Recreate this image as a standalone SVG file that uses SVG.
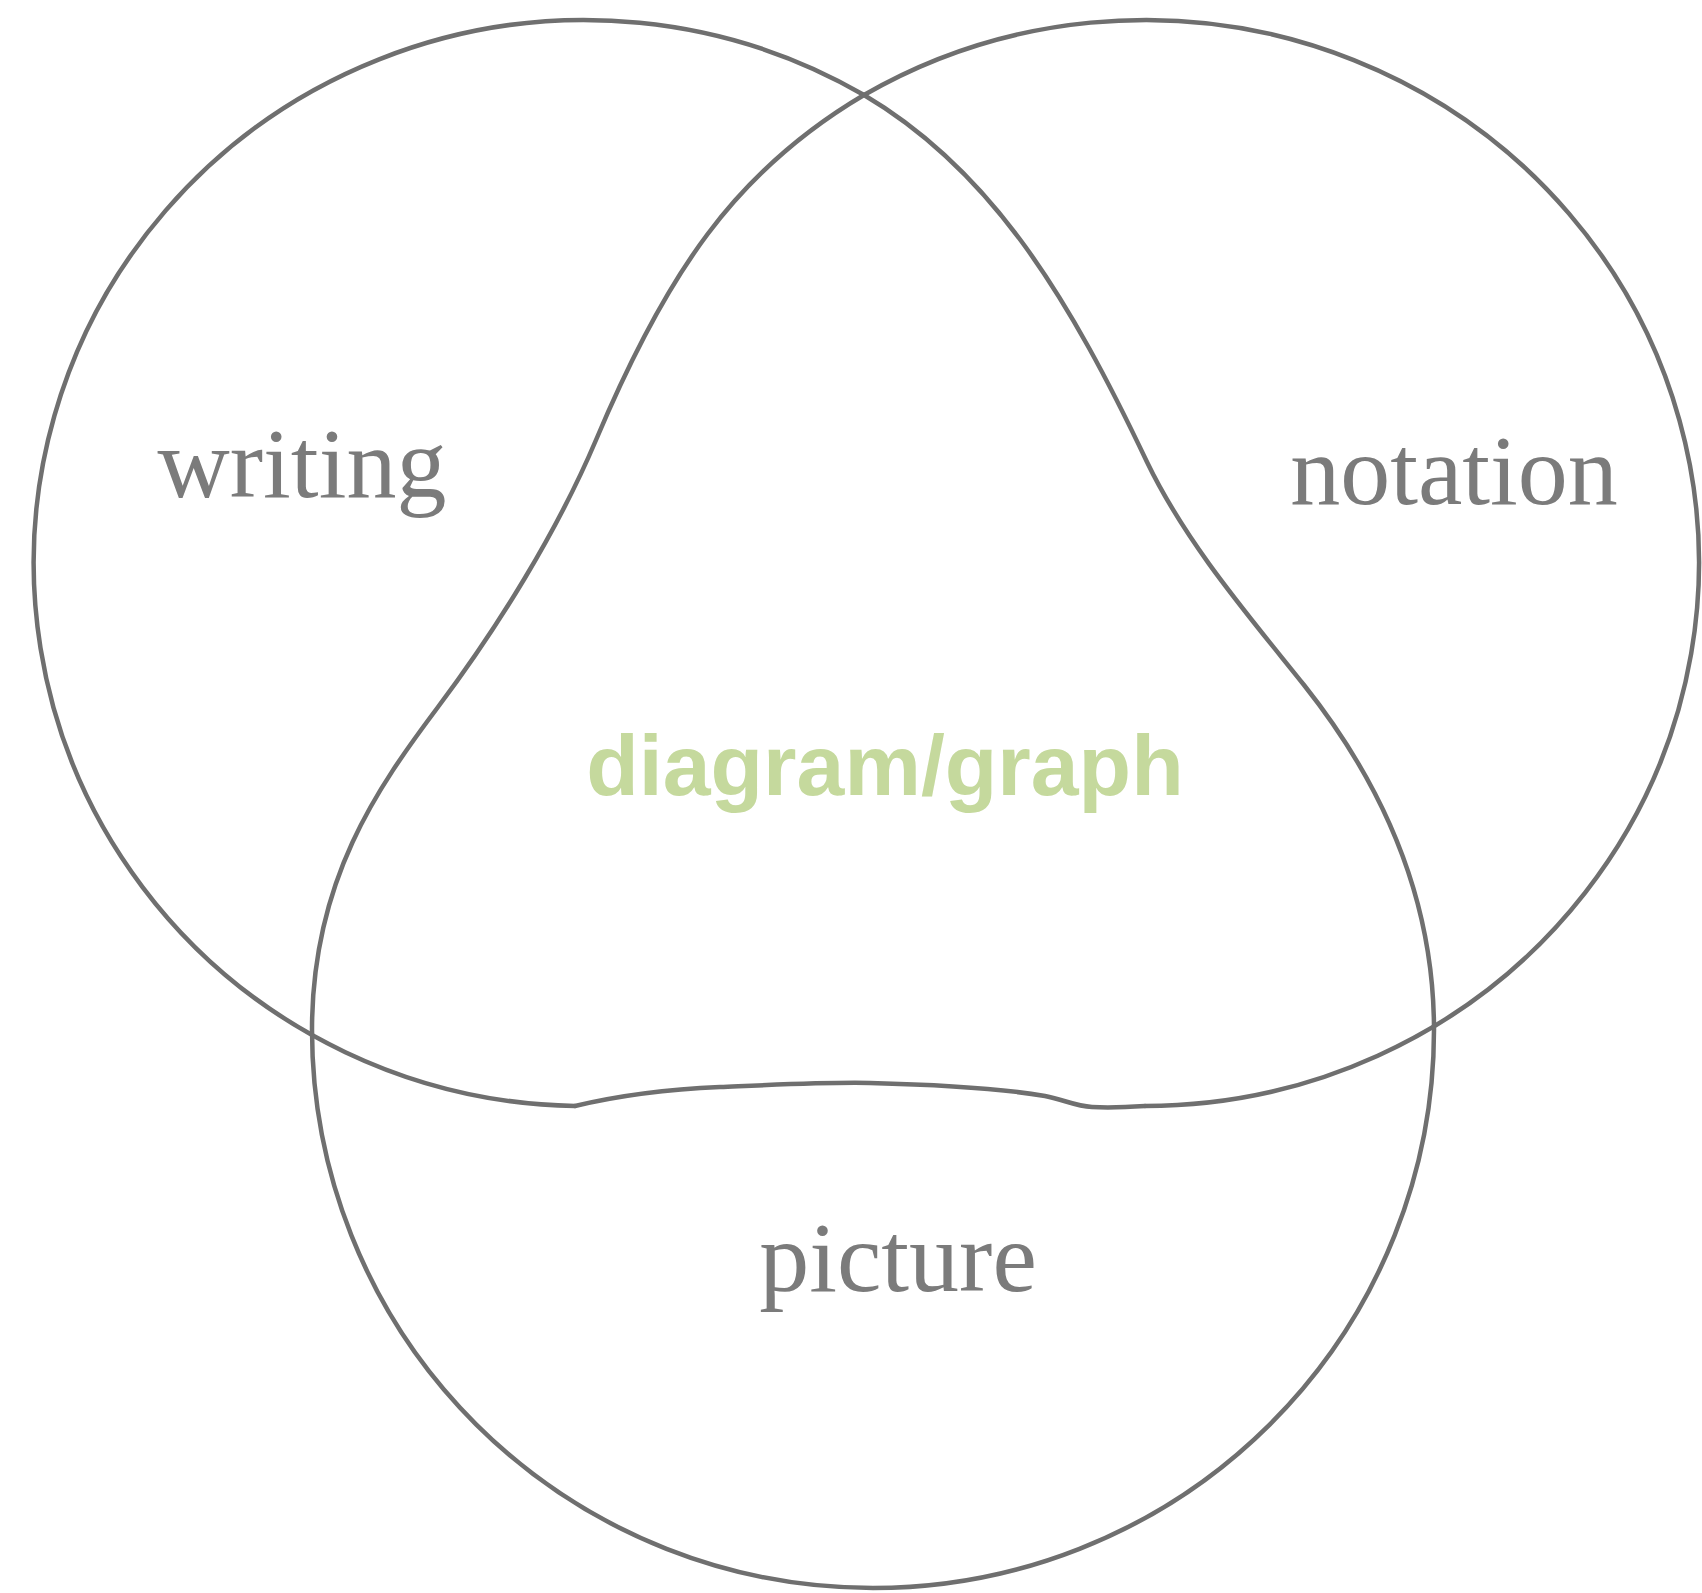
<svg xmlns="http://www.w3.org/2000/svg" width="1702" height="1593" viewBox="0 0 1702 1593">
<style>
.ln{fill:none;stroke:#6f6f6f;stroke-width:4.5;stroke-linecap:round;stroke-linejoin:round}
.lbl{font-family:"Liberation Serif","Times New Roman",serif;font-size:100px;fill:#7b7b7b;text-anchor:middle}
.ctr{font-family:"Liberation Sans",Arial,sans-serif;font-weight:bold;font-size:86px;fill:#c5d99d;text-anchor:middle}
</style>
<rect width="1702" height="1593" fill="#ffffff"/>
<g id="writing">
<path class="ln" d="M 864 95 A 551 543 0 1 0 575 1106"/>
<text class="lbl" x="302" y="497">writing</text>
</g>
<g id="notation">
<path class="ln" d="M 1145 1106 A 554 543 0 1 0 864 95"/>
<text class="lbl" x="1454" y="504">notation</text>
</g>
<g id="picture">
<path class="ln" d="M 864 95 C 735 171 666 274 596 440 C 557 532 498 627 438 707 C 378 787 312 880 312 1030 A 561 558 0 0 0 1434 1030 C 1434 880 1366 763 1304 685 C 1248 615 1186 543 1147 462 C 1070 300 993 171 864 95 Z"/>
<text class="lbl" x="898" y="1291">picture</text>
</g>
<g id="diagram-graph">
<path class="ln" d="M 575 1106 C 600 1100 650 1090 720 1087 C 790 1084 830 1082 870 1083 C 950 1085 1010 1090 1045 1096 C 1065 1100 1075 1106 1092 1107 C 1110 1108 1130 1107 1145 1106"/>
<text class="ctr" x="885" y="795">diagram/graph</text>
</g>
<g id="connectors"></g>
</svg>
